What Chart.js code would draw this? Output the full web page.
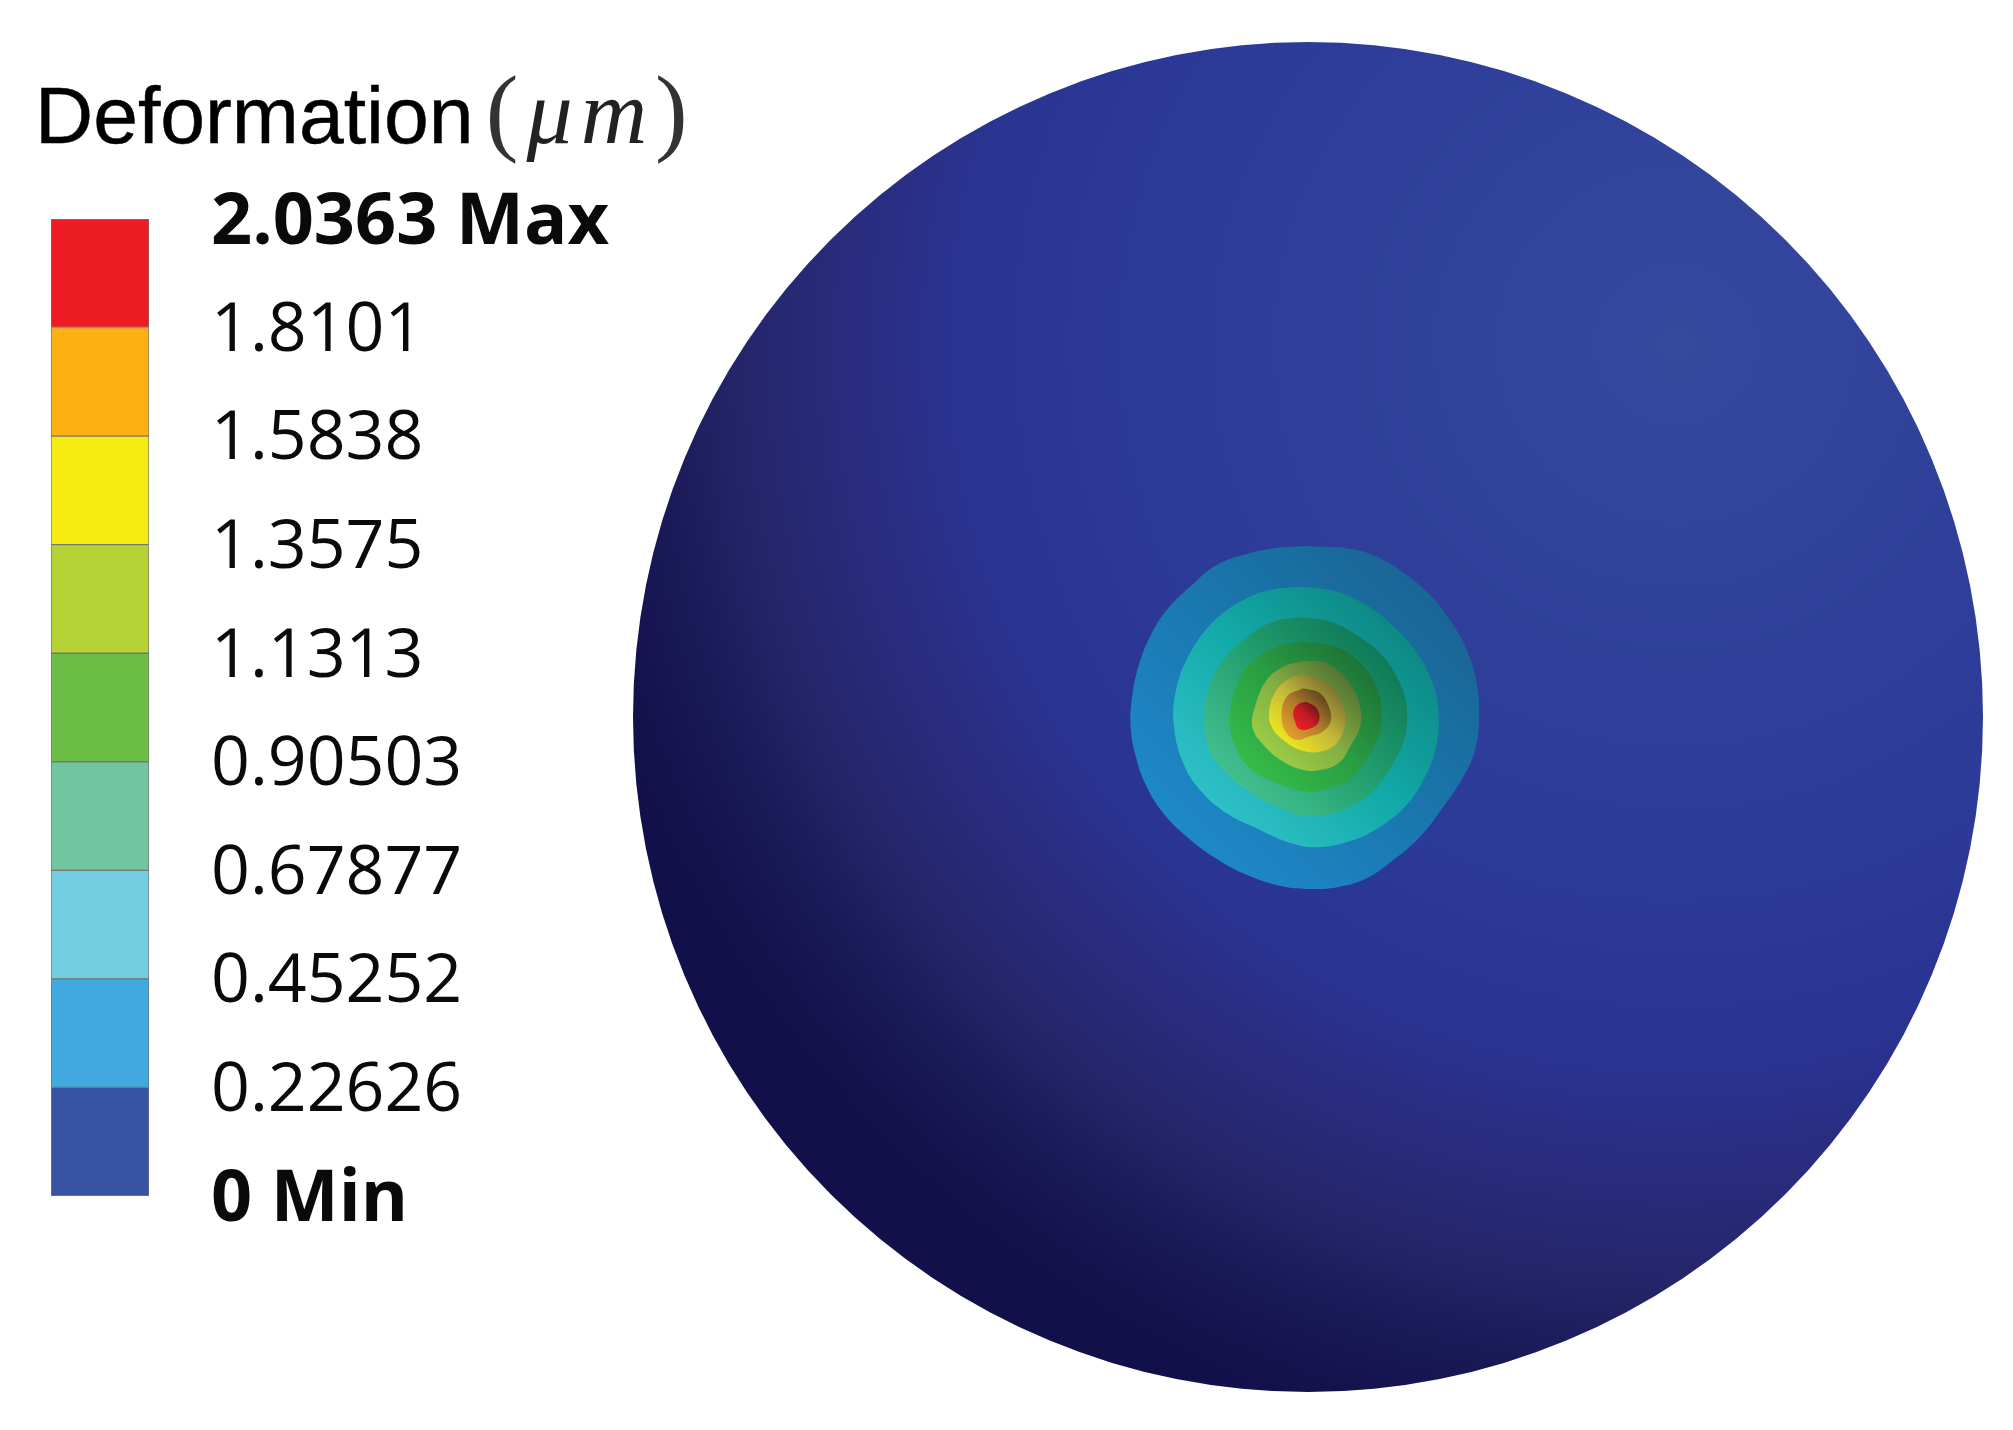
<!DOCTYPE html>
<html>
<head>
<meta charset="utf-8">
<title>Deformation</title>
<script src="https://cdn.jsdelivr.net/npm/chart.js@4/dist/chart.umd.min.js"></script>
<style>
  html, body { margin: 0; background: #fff; }
  canvas { position: absolute; }
  #legend_chart { left: 0; top: 0; }
  #sphere_chart { left: 633px; top: 42px; }
  #title { position: absolute; left: 35px; top: 60px; white-space: nowrap; color: #000;
           font: 80.5px/100px "Liberation Sans", sans-serif; -webkit-text-stroke: 0.5px #000; }
  #title .paren { font: 98px/100px "Liberation Serif", serif; color: #333; -webkit-text-stroke: 0; margin-left: -10px; }
  #title .unit { font: italic 92px/100px "Liberation Serif", serif; color: #222; letter-spacing: 8px; -webkit-text-stroke: 0; margin-left: 8px; }
  #title .paren.close { margin-left: 0; }
</style>
</head>
<body>
<div id="title">Deformation <span class="paren">(</span><span class="unit">μm</span><span class="paren close">)</span></div>
<canvas id="legend_chart" width="800" height="1430"></canvas>
<canvas id="sphere_chart" width="1350" height="1350"></canvas>
<script>
// colour bar
var levels = [0, 0.22626, 0.45252, 0.67877, 0.90503, 1.1313, 1.3575, 1.5838, 1.8101, 2.0363];
var tickLabels = ['0 Min', '0.22626', '0.45252', '0.67877', '0.90503', '1.1313', '1.3575', '1.5838', '1.8101', '2.0363 Max'];
var bandColors = ['#3953A4', '#3FA9E0', '#73CDE0', '#6FC6A0', '#6BBD45', '#B5D334', '#F5EC14', '#FDB013', '#ED1C24'];

// contour outlines, outermost first (grid units of the reading)
var contour1 = [[620,78],[760,88],[850,120],[920,165],[990,225],[1050,300],[1100,390],[1130,490],[1137,600],[1125,690],[1090,770],[1030,860],[960,950],[880,1020],[800,1075],[720,1100],[620,1107],[530,1095],[430,1060],[340,1010],[260,950],[190,880],[135,790],[105,700],[92,620],[95,540],[115,440],[150,350],[200,270],[270,200],[350,135],[430,105],[520,85],[620,78]];
var contour2 = [[600,200],[700,212],[790,250],[870,310],[940,385],[990,470],[1015,570],[1008,680],[970,780],[915,860],[840,920],[760,960],[650,982],[560,965],[470,925],[380,880],[300,810],[250,730],[222,620],[228,510],[270,400],[340,305],[430,240],[510,210],[600,200]];
var contour3 = [[600,292],[690,305],[770,345],[850,410],[900,490],[920,560],[915,650],[880,730],[830,800],[770,850],[700,880],[620,888],[530,860],[440,810],[370,750],[325,680],[312,600],[325,510],[370,420],[450,345],[520,305],[600,292]];
var contour4 = [[610,365],[690,375],[760,410],[820,480],[845,570],[835,650],[790,730],[750,780],[690,805],[630,815],[560,800],[470,760],[415,700],[390,610],[405,510],[450,430],[530,380],[610,365]];
var contour5 = [[610,423],[680,430],[750,490],[780,560],[780,620],[750,680],[715,730],[660,750],[610,750],[550,725],[495,680],[458,625],[465,560],[500,480],[550,440],[610,423]];
var contour6 = [[610,462],[680,490],[725,550],[735,610],[710,670],[660,695],[600,690],[550,660],[515,620],[508,570],[530,510],[570,475],[610,462]];
var contour7 = [[610,505],[660,520],[690,570],[690,610],[660,640],[625,650],[590,660],[560,640],[545,590],[560,530],[610,505]];
var contour8 = [[620,545],[650,565],[658,600],[640,622],[600,628],[585,605],[580,575],[595,552],[620,545]];
var contours = [contour1, contour2, contour3, contour4, contour5, contour6, contour7, contour8];

// lit side, middle, shaded side of each contour band
var contourShades = [
  ['#1E88C8', '#1A78B0', '#1A6696'],
  ['#2FC0C8', '#12AAA8', '#0E8884'],
  ['#42C090', '#22A070', '#0F7A58'],
  ['#35BA48', '#2A9E42', '#1E7538'],
  ['#9ACD45', '#84AE42', '#567534'],
  ['#EDE71C', '#C4B83A', '#7A7030'],
  ['#DE9A2C', '#B07C2C', '#64481E'],
  ['#EE1C2A', '#C01C24', '#701418']
];

var sphereCentre = { x: 624, y: 591 };
var sphereRadius = 2025;

new Chart(document.getElementById('legend_chart'), {
  type: 'bar',
  data: {
    labels: [''],
    datasets: bandColors.map(function (color, i) {
      return {
        data: [[levels[i], levels[i + 1]]],
        backgroundColor: color,
        borderColor: '#777',
        borderWidth: 1,
        borderSkipped: false,
        grouped: false,
        barPercentage: 1,
        categoryPercentage: 1
      };
    })
  },
  options: {
    responsive: false,
    animation: false,
    layout: { padding: { left: 51, top: 219, bottom: 234, right: 0 } },
    plugins: { legend: { display: false }, tooltip: { enabled: false } },
    scales: {
      x: { display: false },
      y: {
        position: 'right',
        min: 0,
        max: 2.0363,
        afterBuildTicks: function (scale) {
          scale.ticks = levels.map(function (v) { return { value: v }; });
        },
        afterFit: function (scale) { scale.width = 651; },
        grid: { display: false },
        border: { display: false },
        ticks: {
          autoSkip: false,
          padding: 54,
          labelOffset: 4,
          crossAlign: 'near',
          color: '#0a0a0a',
          callback: function (v, i) { return tickLabels[i]; },
          font: function (ctx) {
            var bold = ctx.index === 0 || ctx.index === levels.length - 1;
            return { family: '"Open Sans", sans-serif', size: bold ? 72 : 68, weight: bold ? 'bold' : 'normal' };
          }
        }
      }
    }
  }
});

function shadeBand(ctx, points, shades) {
  var chart = ctx.chart;
  if (!chart.chartArea) return shades[1];
  var xs = points.map(function (p) { return chart.scales.x.getPixelForValue(p[0]); });
  var ys = points.map(function (p) { return chart.scales.y.getPixelForValue(p[1]); });
  var g = chart.ctx.createLinearGradient(Math.min.apply(null, xs), Math.max.apply(null, ys), Math.max.apply(null, xs), Math.min.apply(null, ys));
  g.addColorStop(0.15, shades[0]);
  g.addColorStop(0.5, shades[1]);
  g.addColorStop(0.85, shades[2]);
  return g;
}

function shadeSphere(ctx) {
  var chart = ctx.chart;
  if (!chart.chartArea) return '#2A3290';
  var x = chart.scales.x, y = chart.scales.y;
  var r = x.getPixelForValue(3400) - x.getPixelForValue(0);
  var g = chart.ctx.createRadialGradient(x.getPixelForValue(1728), y.getPixelForValue(-525), 0, x.getPixelForValue(1728), y.getPixelForValue(-525), r);
  g.addColorStop(0, '#35499D');
  g.addColorStop(0.47, '#2C3A98');
  g.addColorStop(0.63, '#2A3492');
  g.addColorStop(0.745, '#292B7C');
  g.addColorStop(0.83, '#242568');
  g.addColorStop(0.9, '#1A1A58');
  g.addColorStop(0.96, '#14134E');
  g.addColorStop(1, '#11104A');
  return g;
}

var sphereDatasets = contours.map(function (points, i) {
  return {
    showLine: true,
    order: contours.length - i,
    data: points.map(function (p) { return { x: p[0], y: p[1] }; }),
    fill: 'shape',
    tension: 0.4,
    borderWidth: 0,
    pointRadius: 0,
    backgroundColor: function (ctx) { return shadeBand(ctx, points, contourShades[i]); }
  };
});
// the sphere itself is one round point at its centre
sphereDatasets.push({
  order: contours.length + 1,
  clip: false,
  data: [{ x: sphereCentre.x, y: sphereCentre.y }],
  pointBorderWidth: 0,
  pointBackgroundColor: shadeSphere,
  pointRadius: function (ctx) {
    var x = ctx.chart.scales.x;
    return x.getPixelForValue(sphereRadius) - x.getPixelForValue(0);
  }
});

new Chart(document.getElementById('sphere_chart'), {
  type: 'scatter',
  data: { datasets: sphereDatasets },
  options: {
    responsive: false,
    animation: false,
    plugins: { legend: { display: false }, tooltip: { enabled: false } },
    scales: {
      x: { display: false, min: sphereCentre.x - sphereRadius, max: sphereCentre.x + sphereRadius },
      y: { display: false, reverse: true, min: sphereCentre.y - sphereRadius, max: sphereCentre.y + sphereRadius }
    }
  }
});
</script>
</body>
</html>
